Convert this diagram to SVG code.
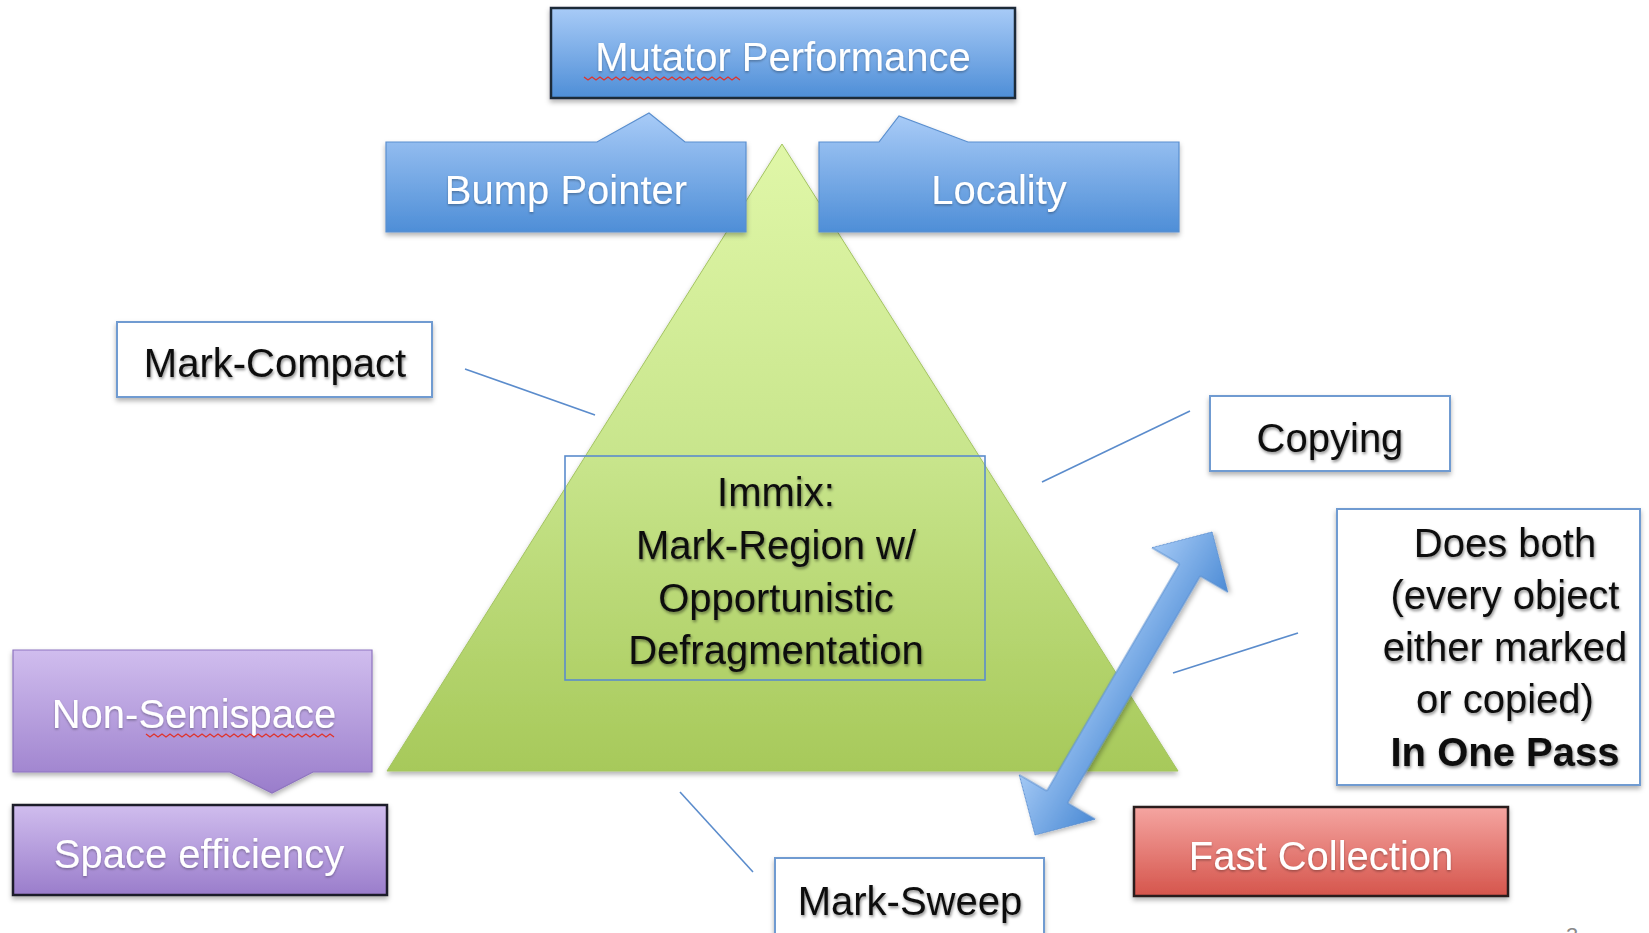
<svg xmlns="http://www.w3.org/2000/svg" width="1649" height="933" viewBox="0 0 1649 933">
  <style>
    .lbl { font-family: "Liberation Sans", Arial, sans-serif; font-size: 40px; text-anchor: middle; }
    .dark { fill: #111; filter: url(#txtShadow); }
    .light { fill: #fff; filter: url(#txtShadowSoft); }
    .plain { fill: #fff; stroke: #6f9bd1; stroke-width: 2; filter: url(#boxShadow); }
    .conn { stroke: #5b8ccc; stroke-width: 1.6; fill: none; }
    .squig { stroke: #e0342c; stroke-width: 1.3; fill: none; }
  </style>
  <defs>
    <linearGradient id="blueFill" x1="0" y1="0" x2="0" y2="1">
      <stop offset="0" stop-color="#a8cbf7"/>
      <stop offset="1" stop-color="#4e8ed7"/>
    </linearGradient>
    <linearGradient id="purpleFill" x1="0" y1="0" x2="0" y2="1">
      <stop offset="0" stop-color="#d0bdee"/>
      <stop offset="1" stop-color="#9a7dcb"/>
    </linearGradient>
    <linearGradient id="redFill" x1="0" y1="0" x2="0" y2="1">
      <stop offset="0" stop-color="#f5a5a1"/>
      <stop offset="1" stop-color="#d5554c"/>
    </linearGradient>
    <linearGradient id="greenFill" x1="0" y1="0" x2="0" y2="1">
      <stop offset="0" stop-color="#e0f7a8"/>
      <stop offset="0.5" stop-color="#c8e58c"/>
      <stop offset="1" stop-color="#a7c95a"/>
    </linearGradient>
    <linearGradient id="arrowFill" x1="0" y1="0" x2="0" y2="1">
      <stop offset="0" stop-color="#a4c9f5"/>
      <stop offset="1" stop-color="#4c8bd5"/>
    </linearGradient>
    <filter id="boxShadow" x="-10%" y="-10%" width="120%" height="130%">
      <feDropShadow dx="0" dy="3" stdDeviation="2.5" flood-color="#000" flood-opacity="0.3"/>
    </filter>
    <filter id="txtShadow" x="-5%" y="-20%" width="110%" height="150%">
      <feDropShadow dx="1" dy="2" stdDeviation="1.6" flood-color="#000" flood-opacity="0.45"/>
    </filter>
    <filter id="txtShadowSoft" x="-5%" y="-20%" width="110%" height="150%">
      <feDropShadow dx="0" dy="1.5" stdDeviation="1.2" flood-color="#000" flood-opacity="0.3"/>
    </filter>
  </defs>

  <rect width="1649" height="933" fill="#fff"/>

  <!-- central pyramid -->
  <g id="pyramid">
    <polygon points="782,144 387,771 1178,771" fill="url(#greenFill)" stroke="#a3c460" stroke-width="1" filter="url(#boxShadow)"/>
  </g>

  <!-- thin leader lines from the labels to the pyramid -->
  <g id="connectors">
    <line class="conn" x1="465" y1="369" x2="595" y2="415"/>
    <line class="conn" x1="1042" y1="482" x2="1190" y2="411"/>
    <line class="conn" x1="1173" y1="673" x2="1298" y2="633"/>
    <line class="conn" x1="680" y1="792" x2="753" y2="872"/>
  </g>

  <g id="mutator-performance">
    <rect x="551" y="8" width="464" height="90" fill="url(#blueFill)" stroke="#1f2a38" stroke-width="2.5" filter="url(#boxShadow)"/>
    <text class="lbl light" x="783" y="71" font-size="41">Mutator Performance</text>
    <path class="squig" d="M584,77 l4,3 l4,-3 l4,3 l4,-3 l4,3 l4,-3 l4,3 l4,-3 l4,3 l4,-3 l4,3 l4,-3 l4,3 l4,-3 l4,3 l4,-3 l4,3 l4,-3 l4,3 l4,-3 l4,3 l4,-3 l4,3 l4,-3 l4,3 l4,-3 l4,3 l4,-3 l4,3 l4,-3 l4,3 l4,-3 l4,3 l4,-3 l4,3 l4,-3 l4,3 l4,-3 l4,3"/>
  </g>

  <g id="bump-pointer">
    <path d="M386,142 L597,142 L649,113 L685,142 L746,142 L746,232 L386,232 Z" fill="url(#blueFill)" stroke="#5a8fcf" stroke-width="1.2" filter="url(#boxShadow)"/>
    <text class="lbl light" x="566" y="204">Bump Pointer</text>
  </g>

  <g id="locality">
    <path d="M819,142 L879,142 L899,116 L968,142 L1179,142 L1179,232 L819,232 Z" fill="url(#blueFill)" stroke="#5a8fcf" stroke-width="1.2" filter="url(#boxShadow)"/>
    <text class="lbl light" x="999" y="204">Locality</text>
  </g>

  <g id="mark-compact">
    <rect class="plain" x="117" y="322" width="315" height="75"/>
    <text class="lbl dark" x="275" y="377">Mark-Compact</text>
  </g>

  <g id="copying">
    <rect class="plain" x="1210" y="396" width="240" height="75"/>
    <text class="lbl dark" x="1330" y="452">Copying</text>
  </g>

  <g id="immix">
    <rect x="565" y="456" width="420" height="224" fill="none" stroke="#5b8ccc" stroke-width="1.6"/>
    <text class="lbl dark" x="776" y="506">Immix:</text>
    <text class="lbl dark" x="776" y="559">Mark-Region w/</text>
    <text class="lbl dark" x="776" y="612">Opportunistic</text>
    <text class="lbl dark" x="776" y="664">Defragmentation</text>
  </g>

  <g id="does-both">
    <rect class="plain" x="1337" y="509" width="303" height="276"/>
    <text class="lbl dark" x="1505" y="557">Does both</text>
    <text class="lbl dark" x="1505" y="609">(every object</text>
    <text class="lbl dark" x="1505" y="661">either marked</text>
    <text class="lbl dark" x="1505" y="713">or copied)</text>
    <text class="lbl dark" x="1505" y="766" font-size="38" font-weight="bold">In One Pass</text>
  </g>

  <!-- two-headed arrow between copying and fast collection -->
  <g id="double-arrow">
    <g transform="translate(1035,835) rotate(-59.7)">
      <polygon points="0,0 44,-44 44,-12 307,-12 307,-44 351,0 307,44 307,12 44,12 44,44" fill="url(#arrowFill)" stroke="#5b8fd0" stroke-width="1" filter="url(#boxShadow)"/>
    </g>
  </g>

  <g id="non-semispace">
    <path d="M13,650 L372,650 L372,772 L313,772 L272,793 L230,772 L13,772 Z" fill="url(#purpleFill)" stroke="#8e74bf" stroke-width="1.2" filter="url(#boxShadow)"/>
    <text class="lbl light" x="194" y="728">Non-Semispace</text>
    <path class="squig" d="M146,734 l4,3 l4,-3 l4,3 l4,-3 l4,3 l4,-3 l4,3 l4,-3 l4,3 l4,-3 l4,3 l4,-3 l4,3 l4,-3 l4,3 l4,-3 l4,3 l4,-3 l4,3 l4,-3 l4,3 l4,-3 l4,3 l4,-3 l4,3 l4,-3 l4,3 l4,-3 l4,3 l4,-3 l4,3 l4,-3 l4,3 l4,-3 l4,3 l4,-3 l4,3 l4,-3 l4,3 l4,-3 l4,3 l4,-3 l4,3 l4,-3 l4,3 l4,-3 l4,3"/>
  </g>

  <g id="space-efficiency">
    <rect x="13" y="805" width="374" height="90" fill="url(#purpleFill)" stroke="#1f1a2a" stroke-width="2.5" filter="url(#boxShadow)"/>
    <text class="lbl light" x="199" y="868">Space efficiency</text>
  </g>

  <g id="fast-collection">
    <rect x="1134" y="807" width="374" height="89" fill="url(#redFill)" stroke="#2a1a1a" stroke-width="2.5" filter="url(#boxShadow)"/>
    <text class="lbl light" x="1321" y="870">Fast Collection</text>
  </g>

  <g id="mark-sweep">
    <rect class="plain" x="775" y="858" width="269" height="85"/>
    <text class="lbl dark" x="910" y="915">Mark-Sweep</text>
  </g>

  <!-- slide number, sitting on the bottom edge -->
  <text x="1572" y="943" font-family="Liberation Sans, Arial, sans-serif" font-size="22" fill="#8a8a8a" text-anchor="middle">3</text>
</svg>
